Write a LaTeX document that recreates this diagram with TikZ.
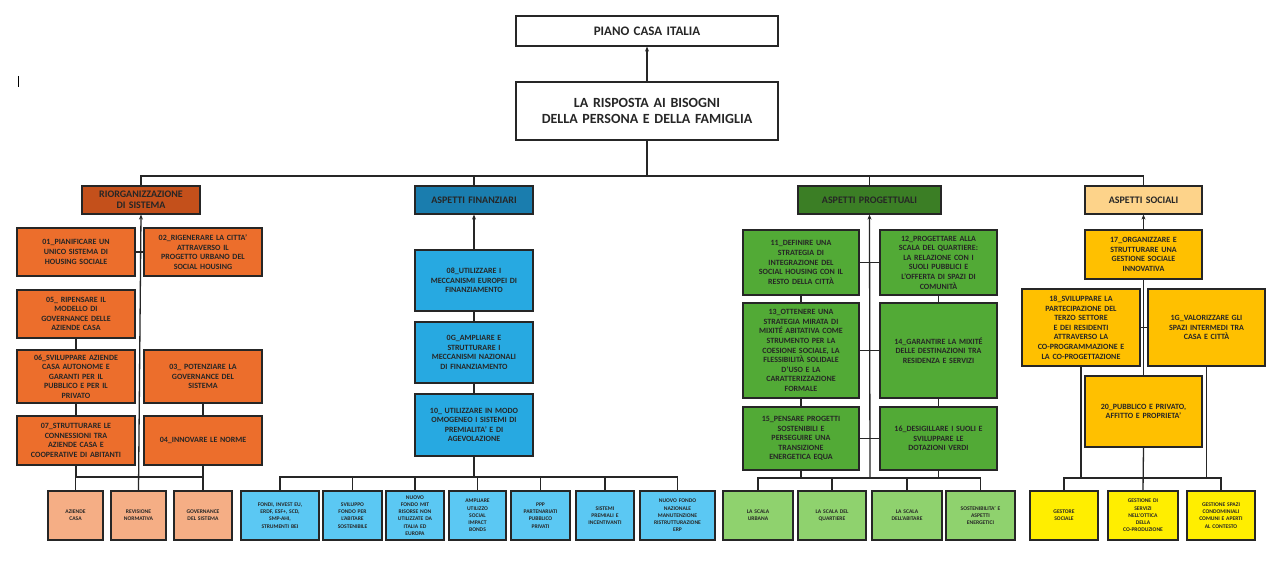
\documentclass[tikz,border=0pt]{standalone}
\usepackage{fontspec}
\setmainfont{Carlito}
\usetikzlibrary{arrows.meta}
\definecolor{orA}{HTML}{EC6E2C}\definecolor{orC}{HTML}{C4501B}\definecolor{orL}{HTML}{F5AE85}
\definecolor{blA}{HTML}{27A9E1}\definecolor{blC}{HTML}{1A7DAE}\definecolor{blL}{HTML}{5BC8F3}
\definecolor{grA}{HTML}{52AA36}\definecolor{grC}{HTML}{3B7E25}\definecolor{grL}{HTML}{8FD26E}
\definecolor{soA}{HTML}{FFC000}\definecolor{soC}{HTML}{FDD38A}\definecolor{soL}{HTML}{FFEE00}
\definecolor{txt}{HTML}{262626}
\tikzset{box/.style={draw=black!85,line width=1.2pt,inner sep=0pt,align=center,text=txt,font=\bfseries\fontsize{8}{9.6}\selectfont},
 cat/.style={font=\bfseries\fontsize{10}{11.5}\selectfont},
 sm/.style={font=\bfseries\fontsize{5.6}{7.2}\selectfont},
 ln/.style={line width=1.3pt,draw=black!85},
 ar/.style={ln,-{Stealth[length=5pt,width=4pt]}}}
\newcommand\bx[7]{%
 \pgfmathsetlengthmacro\bw{(#4-#2)*1pt}\pgfmathsetlengthmacro\bh{(#5-#3)*1pt}\pgfmathsetlengthmacro\tw{(#4-#2-5)*1pt}%
 \node[box,#6,minimum width=\bw,minimum height=\bh,text width=\tw] (#1) at ({(#2+#4)/2},{(#3+#5)/2}) {#7};}
\begin{document}
\begin{tikzpicture}[x=1pt,y=-1pt]
\useasboundingbox (0,0) rectangle (1280,561);
\fill[white] (0,0) rectangle (1280,561);
\draw[line width=0.6pt] (18,76) -- (18,87);
% top
\bx{piano}{516}{16}{778}{46}{fill=white,font=\bfseries\fontsize{13}{15}\selectfont}{PIANO CASA ITALIA}
\bx{risp}{516}{82}{778}{140}{fill=white,font=\bfseries\fontsize{14}{16.5}\selectfont}{LA RISPOSTA AI BISOGNI\\DELLA PERSONA E DELLA FAMIGLIA}
% categories
\bx{riorg}{82}{186}{200}{214}{fill=orC,cat}{RIORGANIZZAZIONE\\DI SISTEMA}
\bx{fin}{415}{186}{533}{214}{fill=blC,cat}{ASPETTI FINANZIARI}
\bx{prog}{798}{186}{941}{214}{fill=grC,cat}{ASPETTI PROGETTUALI}
\bx{soc}{1085}{186}{1202}{214}{fill=soC,cat}{ASPETTI SOCIALI}
\draw[ar] (risp.north) -- (piano.south);
\coordinate (b0) at (647,176);
\draw[ln] (risp.south) -- (b0);
\draw[ln] (riorg.north) |- (b0) -| (soc.north);
\draw[ln] (fin.north) -- (fin.north|-b0);
\draw[ln] (prog.north) -- (prog.north|-b0);
% orange
\bx{o01}{17}{228}{135}{276}{fill=orA}{01\_PIANIFICARE UN\\UNICO SISTEMA DI\\HOUSING SOCIALE}
\bx{o02}{144}{228}{262}{276}{fill=orA}{02\_RIGENERARE LA CITTA'\\ATTRAVERSO IL\\PROGETTO URBANO DEL\\SOCIAL HOUSING}
\bx{o05}{17}{290}{135}{338}{fill=orA}{05\_ RIPENSARE IL\\MODELLO DI\\GOVERNANCE DELLE\\AZIENDE CASA}
\bx{o06}{17}{350}{135}{403}{fill=orA}{06\_SVILUPPARE AZIENDE\\CASA AUTONOME E\\GARANTI PER IL\\PUBBLICO E PER IL\\PRIVATO}
\bx{o03}{144}{350}{262}{403}{fill=orA}{03\_ POTENZIARE LA\\GOVERNANCE DEL\\SISTEMA}
\bx{o07}{17}{416}{135}{465}{fill=orA}{07\_STRUTTURARE LE\\CONNESSIONI TRA\\AZIENDE CASA E\\COOPERATIVE DI ABITANTI}
\bx{o04}{144}{416}{262}{465}{fill=orA}{04\_INNOVARE LE NORME}
\bx{oa}{48}{491}{103}{540}{fill=orL,sm}{AZIENDE\\CASA}
\bx{ob}{111}{491}{166}{540}{fill=orL,sm}{REVISIONE\\NORMATIVA}
\bx{oc}{174}{491}{232}{540}{fill=orL,sm}{GOVERNANCE\\DEL SISTEMA}
\draw[ln] (o01.east) -- (o02.west);
\draw[ln] (o05.south) -- (o06.north);
\draw[ln] (o06.south) -- (o07.north);
\draw[ln] (o03.south) -- (o04.north);
\coordinate (ob0) at (140,477);
\draw[ln] (o07.south) -- (o07.south|-ob0) -| (oa.north);
\draw[ln] (o07.south|-ob0) -| (oc.north);
\draw[ln] (o04.south) -- (o04.south|-ob0);
\draw[ar] (ob.north) -- (riorg.south);
% blue
\bx{b08}{415}{250}{533}{311}{fill=blA}{08\_UTILIZZARE I\\MECCANISMI EUROPEI DI\\FINANZIAMENTO}
\bx{b09}{415}{322}{533}{383}{fill=blA}{0G\_AMPLIARE E\\STRUTTURARE I\\MECCANISMI NAZIONALI\\DI FINANZIAMENTO}
\bx{b10}{415}{394}{533}{456}{fill=blA}{10\_ UTILIZZARE IN MODO\\OMOGENEO I SISTEMI DI\\PREMIALITA' E DI\\AGEVOLAZIONE}
\bx{ba}{241}{491}{319}{540}{fill=blL,sm}{FONDI, INVEST EU,\\ERDF, ESF+, SCD,\\SMP-AHI,\\STRUMENTI BEI}
\bx{bb}{323}{491}{382}{540}{fill=blL,sm}{SVILUPPO\\FONDO PER\\L'ABITARE\\SOSTENIBILE}
\bx{bc}{386}{491}{444}{540}{fill=blL,sm}{NUOVO\\FONDO MIT\\RISORSE NON\\UTILIZZATE DA\\ITALIA ED\\EUROPA}
\bx{bd}{449}{491}{506}{540}{fill=blL,sm}{AMPLIARE\\UTILIZZO\\SOCIAL\\IMPACT\\BONDS}
\bx{be}{511}{491}{570}{540}{fill=blL,sm}{PPP\\PARTENARIATI\\PUBBLICO\\PRIVATI}
\bx{bf}{576}{491}{634}{540}{fill=blL,sm}{SISTEMI\\PREMIALI E\\INCENTIVANTI}
\bx{bg}{640}{491}{715}{540}{fill=blL,sm}{NUOVO FONDO\\NAZIONALE\\MANUTENZIONE\\RISTRUTTURAZIONE\\ERP}
\draw[ar] (b08.north) -- (fin.south);
\draw[ln] (b08.south) -- (b09.north);
\draw[ln] (b09.south) -- (b10.north);
\coordinate (bb0) at (474,477);
\draw[ln] (b10.south) -- (bb0);
\draw[ln] (ba.north) |- (bb0) -| (bg.north);
\foreach \n in {bb,bc,bd,be,bf} \draw[ln] (\n.north) -- (\n.north|-bb0);
% green
\bx{g11}{743}{230}{859}{295}{fill=grA}{11\_DEFINIRE UNA\\STRATEGIA DI\\INTEGRAZIONE DEL\\SOCIAL HOUSING CON IL\\RESTO DELLA CITTÀ}
\bx{g12}{880}{230}{997}{295}{fill=grA}{12\_PROGETTARE ALLA\\SCALA DEL QUARTIERE:\\LA RELAZIONE CON I\\SUOLI PUBBLICI E\\L'OFFERTA DI SPAZI DI\\COMUNITÀ}
\bx{g13}{743}{303}{859}{398}{fill=grA}{13\_OTTENERE UNA\\STRATEGIA MIRATA DI\\MIXITÉ ABITATIVA COME\\STRUMENTO PER LA\\COESIONE SOCIALE, LA\\FLESSIBILITÀ SOLIDALE\\D'USO E LA\\CARATTERIZZAZIONE\\FORMALE}
\bx{g14}{880}{303}{997}{398}{fill=grA}{14\_GARANTIRE LA MIXITÉ\\DELLE DESTINAZIONI TRA\\RESIDENZA E SERVIZI}
\bx{g15}{743}{407}{859}{470}{fill=grA}{15\_PENSARE PROGETTI\\SOSTENIBILI E\\PERSEGUIRE UNA\\TRANSIZIONE\\ENERGETICA EQUA}
\bx{g16}{880}{407}{997}{470}{fill=grA}{16\_DESIGILLARE I SUOLI E\\SVILUPPARE LE\\DOTAZIONI VERDI}
\bx{ga}{723}{491}{793}{540}{fill=grL,sm}{LA SCALA\\URBANA}
\bx{gb}{798}{491}{866}{540}{fill=grL,sm}{LA SCALA DEL\\QUARTIERE}
\bx{gc}{872}{491}{942}{540}{fill=grL,sm}{LA SCALA\\DELL'ABITARE}
\bx{gd}{946}{491}{1015}{540}{fill=grL,sm}{SOSTENIBILITA' E\\ASPETTI\\ENERGETICI}
\draw[ln] (g11.east) -- (g12.west);
\draw[ln] (g13.east) -- (g14.west);
\draw[ln] (g15.east) -- (g16.west);
\draw[ln] (g11.south) -- (g13.north); \draw[ln] (g13.south) -- (g15.north);
\draw[ln] (g12.south) -- (g14.north); \draw[ln] (g14.south) -- (g16.north);
\coordinate (gb0) at (870,478);
\draw[ln] (ga.north) |- (gb0) -| (gd.north);
\draw[ln] (gb.north) -- (gb.north|-gb0);
\draw[ln] (gc.north) -- (gc.north|-gb0);
\draw[ln] (g15.south) -- (g15.south|-gb0);
\draw[ln] (g16.south) -- (g16.south|-gb0);
\draw[ar] (gb0) -- (prog.south);
% social
\bx{s17}{1085}{230}{1202}{279}{fill=soA}{17\_ORGANIZZARE E\\STRUTTURARE UNA\\GESTIONE SOCIALE\\INNOVATIVA}
\bx{s18}{1022}{289}{1140}{366}{fill=soA}{18\_SVILUPPARE LA\\PARTECIPAZIONE DEL\\TERZO SETTORE\\E DEI RESIDENTI\\ATTRAVERSO LA\\CO-PROGRAMMAZIONE E\\LA CO-PROGETTAZIONE}
\bx{s19}{1148}{289}{1265}{366}{fill=soA}{1G\_VALORIZZARE GLI\\SPAZI INTERMEDI TRA\\CASA E CITTÀ}
\bx{s20}{1085}{376}{1202}{447}{fill=soA}{20\_PUBBLICO E PRIVATO,\\AFFITTO E PROPRIETA'}
\bx{sa}{1030}{491}{1098}{540}{fill=soL,sm}{GESTORE\\SOCIALE}
\bx{sb}{1108}{491}{1178}{540}{fill=soL,sm}{GESTIONE DI\\SERVIZI\\NELL'OTTICA\\DELLA\\CO-PRODUZIONE}
\bx{sc}{1187}{491}{1255}{540}{fill=soL,sm}{GESTIONE SPAZI\\CONDOMINIALI\\COMUNI E APERTI\\AL CONTESTO}
\draw[ar] (s17.north) -- (soc.south);
\draw[ln] (s17.south) -- (s20.north);
\draw[ln] (s18.east) -- (s19.west);
\coordinate (sb0) at (1143,478);
\draw[ln] (sa.north) |- (sb0) -| (sc.north);
\draw[ln] (s20.south) -- (sb.north);
\draw[ln] (s18.south) -- (s18.south|-sb0);
\draw[ln] (s19.south) -- (s19.south|-sb0);
\end{tikzpicture}
\end{document}
